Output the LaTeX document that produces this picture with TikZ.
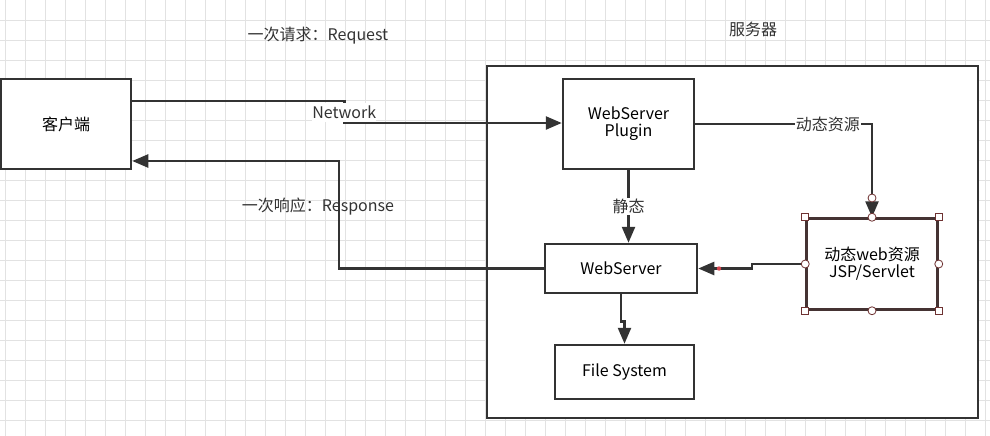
\documentclass[tikz,border=0pt]{standalone}
\usepackage{fontspec}
\usepackage{tikz}
\usepackage{xcolor}
\setmainfont{Noto Sans CJK SC}
\usetikzlibrary{arrows.meta, positioning, calc}
\definecolor{cLine}{RGB}{51,51,51}
\definecolor{cGrid}{RGB}{226,226,226}
\definecolor{cHandle}{RGB}{110,50,50}
\definecolor{cDot}{RGB}{214,70,80}
\tikzset{
	blk/.style     ={rectangle, draw=cLine, line width=2.5pt, align=center, fill=white, font=\fontsize{16}{20}\selectfont},
	sig/.style     ={-{Triangle[length=16pt, width=13pt]}, line width=2.5pt, draw=cLine},
	lbl/.style     ={font=\fontsize{16}{20}\selectfont, text=cLine, inner sep=1pt},
	gridln/.style  ={cGrid, line width=0.8pt},
	% selection handles
	hsq/.style     ={rectangle, draw=cHandle, fill=white, line width=0.8pt, minimum size=7pt, inner sep=0pt},
	hci/.style     ={circle, draw=cHandle, fill=white, line width=0.8pt, minimum size=8pt, inner sep=0pt},
}
\begin{document}
\begin{tikzpicture}[x=1pt, y=-1pt]
	\fill[white] (0,0) rectangle (990,436);
	\useasboundingbox (0,0) rectangle (990,436);
	\foreach \gx in {5,25,...,985} \draw[gridln] (\gx,0) -- (\gx,436);
	\foreach \gy in {20,40,...,420} \draw[gridln] (0,\gy) -- (990,\gy);

	\draw[cLine, line width=2.5pt, fill=white] (487,66) rectangle (978,418);
	\node[lbl] (srvlbl) at (753,29) {服务器};
	\node[lbl] (reqlbl) at (318,36) {一次请求：Request};
	\node[lbl] (resplbl) at (318,207) {一次响应：Response};

	\node[blk, minimum width=130pt, minimum height=90pt] (client) at (66,124) {客户端};
	\node[blk, minimum width=131pt, minimum height=90pt] (plugin) at (628.5,124) {WebServer\\[-3pt]Plugin};
	\node[blk, minimum width=152pt, minimum height=49pt] (websrv) at (621,268.5) {WebServer};
	\node[blk, minimum width=139pt, minimum height=54pt] (filesys) at (624.5,372) {File System};
	\node[blk, draw=cHandle!30!cLine, minimum width=131pt, minimum height=91pt] (jsp) at (872,264) {动态web资源\\[-3pt]JSP/Servlet};

	\draw[sig] ([yshift=23pt]client.east) -- ++(212,0) -- node[lbl, fill=white, inner xsep=0pt, minimum height=19pt] (netlbl) {Network} ++(0,22) -- (plugin.west |- 0,123);
	\draw[sig] (websrv.west) -- (339,268.5) -- (339,161) -- ([yshift=-37pt]client.east);
	\draw[sig] (plugin.south) -- node[lbl, fill=white] (statlbl) {静态} (plugin.south |- websrv.north);
	\draw[sig] (plugin.east) -| node[lbl, fill=white, pos=0.375] (dynlbl) {动态资源} (jsp.north);
	\draw[sig] (jsp.west) -- (752,264) -- (752,268.5) -- (websrv.east);
	\draw[sig] (websrv.south) -- ++(0,27) -| (filesys.north);

	\node[hci] (endh) at (872,198) {};
	\fill[cDot] (719,268.5) circle (2.2pt);
	\foreach \a in {north west, north east, south west, south east} \node[hsq] at (jsp.\a) {};
	\foreach \a in {north, south, east, west} \node[hci] at (jsp.\a) {};
\end{tikzpicture}
\end{document}
